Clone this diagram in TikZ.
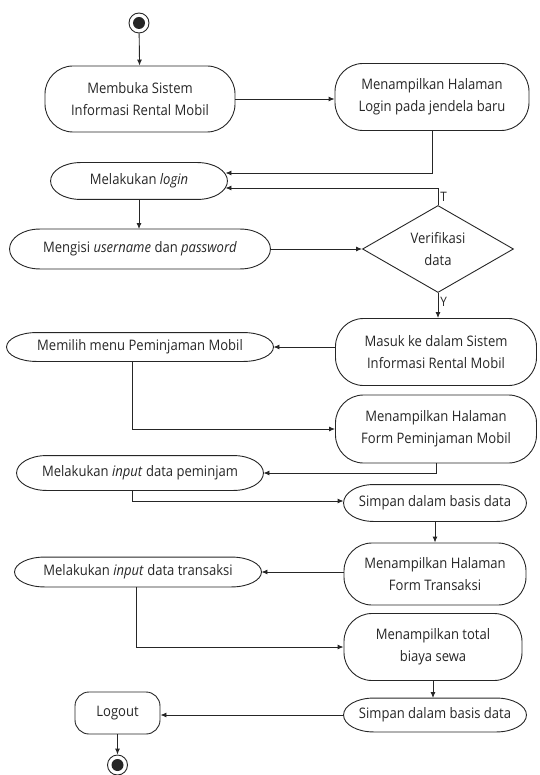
\documentclass[tikz,border=0pt]{standalone}
\usepackage{fontspec}
\setmainfont[FakeStretch=0.9]{Open Sans}
\usepackage{tikz}
\usetikzlibrary{arrows.meta,shapes.geometric,calc}
\definecolor{Ink}{HTML}{262626}
\tikzset{
  act/.style={draw,rounded corners=28pt,align=center,inner sep=2pt},
  actthin/.style={align=center,inner sep=2pt},
  decision/.style={draw,diamond,aspect=1.75,inner sep=0pt,align=center,minimum width=151,minimum height=87},
  startend/.style={draw,circle,minimum size=20,inner sep=0pt,
    path picture={\fill (path picture bounding box.center) circle (6pt);}},
  lbl/.style={inner sep=2pt,font=\fontsize{13}{15}\selectfont}
}
\newcommand{\ovalline}[1]{%
  \draw let \p1=(#1.north east),\p2=(#1.south west),\n1={(\y1-\y2)/2} in
    ([xshift=30pt]#1.north west) -- ([xshift=-30pt]#1.north east)
    arc[start angle=90,end angle=-90,x radius=30pt,y radius=\n1]
    -- ([xshift=30pt]#1.south west)
    arc[start angle=270,end angle=90,x radius=30pt,y radius=\n1] -- cycle;}

\begin{document}
\begin{tikzpicture}[x=1pt,y=-1pt,Ink,line width=0.9pt,font=\fontsize{14.5}{22}\selectfont,
  >={Latex[length=6pt,width=5pt]}]
  \useasboundingbox (0,0) rectangle (539,775);
  \node[startend] (start) at (139,23) {};
  \node[act,minimum width=190,minimum height=66] (buka) at (140,99) {Membuka Sistem\\Informasi Rental Mobil};
  \node[act,minimum width=194,minimum height=67] (halLogin) at (432,97) {Menampilkan Halaman\\Login pada jendela baru};
  \node[actthin,minimum width=176,minimum height=36] (login) at (139,181) {Melakukan \textit{login}};
  \node[actthin,minimum width=260,minimum height=39] (isi) at (140,249) {Mengisi \textit{username} dan \textit{password}};
  \node[decision] (verif) at (438,249) {Verifikasi\\data};
  \node[act,minimum width=201,minimum height=67] (masuk) at (436,352) {Masuk ke dalam Sistem\\Informasi Rental Mobil};
  \node[actthin,minimum width=266,minimum height=28] (pilih) at (140,347) {Memilih menu Peminjaman Mobil};
  \node[act,minimum width=201,minimum height=68] (formPinjam) at (436,429) {Menampilkan Halaman\\Form Peminjaman Mobil};
  \node[actthin,minimum width=246,minimum height=34] (inputPinjam) at (140,473) {Melakukan \textit{input} data peminjam};
  \node[actthin,minimum width=182,minimum height=36] (simpan1) at (435,503) {Simpan dalam basis data};
  \node[act,minimum width=182,minimum height=62] (formTrans) at (435,574) {Menampilkan Halaman\\Form Transaksi};
  \node[actthin,minimum width=246,minimum height=29] (inputTrans) at (138,572) {Melakukan \textit{input} data transaksi};
  \node[act,minimum width=178,minimum height=67] (total) at (433,647) {Menampilkan total\\biaya sewa};
  \node[actthin,minimum width=182,minimum height=33] (simpan2) at (435,715) {Simpan dalam basis data};
  \node[act,rounded corners=14pt,minimum width=85,minimum height=42] (logout) at (117.5,713) {Logout};
  \node[startend] (end) at (117.5,765) {};
  \foreach \nm in {login,isi,pilih,inputPinjam,simpan1,inputTrans,simpan2}
    \ovalline{\nm};

  \draw[->] (start) -- (buka);
  \draw[->] (buka.east) -- (buka.east -| halLogin.west);
  \draw[->] (halLogin.south) |- ([xshift=-2pt,yshift=8pt]login.east);
  \draw[->] (verif.north) |- node[lbl,pos=0.25,right] {T} ([xshift=-2pt,yshift=-7pt]login.east);
  \draw[->] (login.south) -- (login.south |- isi.north);
  \draw[->] (isi.east) -- (verif.west);
  \draw[->] (verif.south) -- node[lbl,pos=0.37,right] {Y} (verif.south |- masuk.north);
  \draw[->] (pilih.east -| masuk.west) -- (pilih.east);
  \draw[->] ([xshift=-8pt]pilih.south) |- (formPinjam.west);
  \draw[->] (formPinjam.south) |- (inputPinjam.east);
  \draw[->] ([xshift=-8pt]inputPinjam.south) |- ([yshift=2pt]simpan1.west);
  \draw[->] (simpan1.south) -- (simpan1.south |- formTrans.north);
  \draw[->] (inputTrans.east -| formTrans.west) -- (inputTrans.east);
  \draw[->] ([xshift=-2pt]inputTrans.south) |- (total.west);
  \draw[->] (total.south) -- (total.south |- simpan2.north);
  \draw[->] (simpan2.west) -- (simpan2.west -| logout.east);
  \draw[->] (logout) -- (end);
\end{tikzpicture}
\end{document}
